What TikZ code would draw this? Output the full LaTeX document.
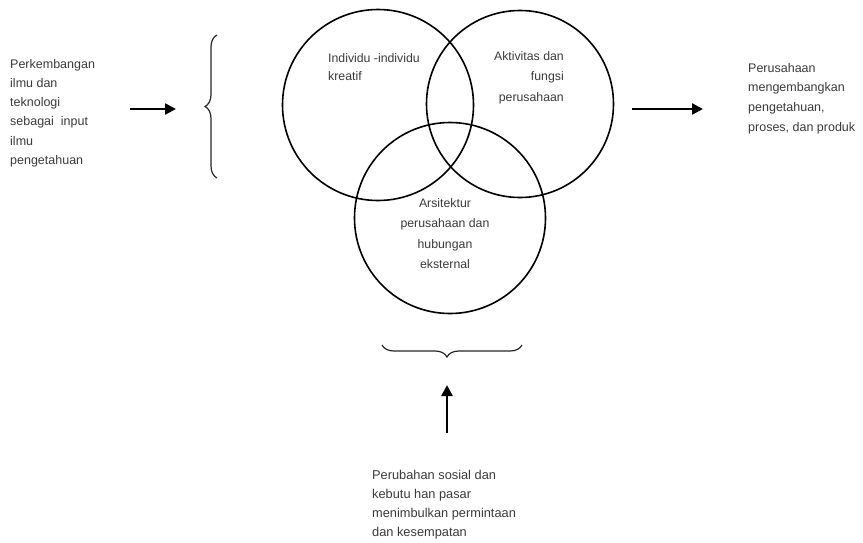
\documentclass[tikz,border=0pt]{standalone}
\usepackage{fontspec}
\setmainfont{Liberation Sans}
\usetikzlibrary{arrows.meta,decorations.pathreplacing}
\definecolor{txt}{HTML}{3A3A3A}
\tikzset{
  venn/.style={draw=black,line width=1.6pt},
  lbl/.style={inner sep=0pt,text=txt,font=\fontsize{12.5}{19.2}\selectfont},
  bigarrow/.style={line width=2.4pt,-{Triangle[length=11pt,width=11pt]}},
  bracestyle/.style={draw=black!85,line width=1.2pt,decorate},
}
\begin{document}
\begin{tikzpicture}[x=1pt,y=-1pt]
\useasboundingbox (0,0) rectangle (863,542);
% circles
\node[venn,circle,minimum size=191pt,inner sep=0pt] (c1) at (378,105) {};
\node[venn,circle,minimum size=187pt,inner sep=0pt] (c2) at (520,104) {};
\node[venn,circle,minimum size=191pt,inner sep=0pt] (c3) at (450,218) {};
% circle texts
\node[lbl,anchor=north west,align=left,font=\fontsize{12.3}{18}\selectfont] (t1) at (328,53) {Individu -individu\\kreatif};
\node[lbl,anchor=north east,align=right,font=\fontsize{12.3}{20.5}\selectfont] (t2) at (564,51) {Aktivitas dan\\fungsi\\perusahaan};
\node[lbl,anchor=north,align=center,font=\fontsize{12.3}{20.6}\selectfont] (t3) at (445,198) {Arsitektur\\perusahaan dan\\hubungan\\eksternal};
% side texts
\node[lbl,anchor=north west,align=left] (left) at (10,59) {Perkembangan\\ilmu dan\\teknologi\\sebagai\ \ input\\ilmu\\pengetahuan};
\node[lbl,anchor=north west,align=left,font=\fontsize{12.5}{19.6}\selectfont] (right) at (748,63) {Perusahaan\\mengembangkan\\pengetahuan,\\proses, dan produk};
\node[lbl,anchor=north west,align=left,font=\fontsize{12.8}{19.1}\selectfont] (bottom) at (372,470) {Perubahan sosial dan\\kebutu han pasar\\menimbulkan permintaan\\dan kesempatan};
% braces
\coordinate (lb1) at (217,178);
\coordinate (lb2) at (217,35);
\coordinate (bb1) at (522,345);
\coordinate (bb2) at (382,345);
\draw[bracestyle,decoration={brace,amplitude=12pt}] (lb1) -- (lb2);
\draw[bracestyle,decoration={brace,amplitude=12pt,aspect=0.536}] (bb1) -- (bb2);
% arrows
\coordinate (la1) at (130,109);
\coordinate (la2) at (176,109);
\coordinate (ra1) at (632,109);
\coordinate (ra2) at (703,109);
\coordinate (ua1) at (447,433);
\coordinate (ua2) at (447,385);
\draw[bigarrow] (la1) -- (la2);
\draw[bigarrow] (ra1) -- (ra2);
\draw[bigarrow] (ua1) -- (ua2);
\end{tikzpicture}
\end{document}
